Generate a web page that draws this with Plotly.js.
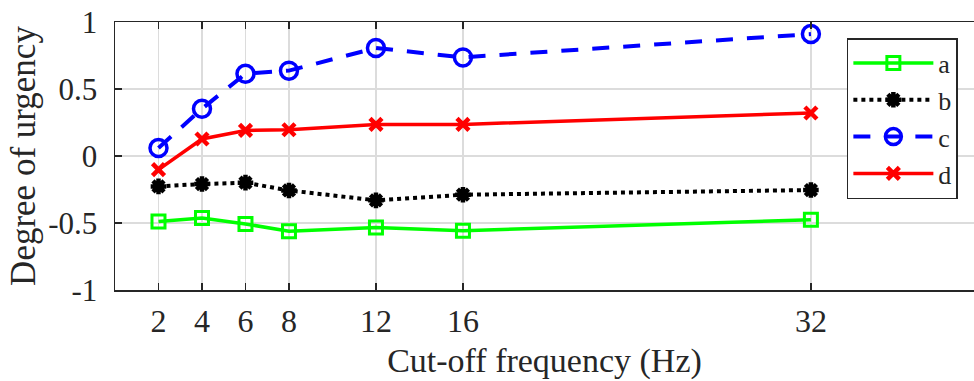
<!DOCTYPE html>
<html>
<head>
<meta charset="utf-8">
<script src="https://cdn.plot.ly/plotly-3.0.1.min.js"></script>
<style>html,body{margin:0;padding:0;background:#fff;}#chart{width:974px;height:381px;}</style>
</head>
<body>
<div id="chart"></div>
<script>
const freqs = [2, 4, 6, 8, 12, 16, 32];
const tickLabels = ["2", "4", "6", "8", "12", "16", "32"];
const seriesA = [-0.488, -0.463, -0.507, -0.562, -0.533, -0.557, -0.475];
const seriesB = [-0.227, -0.209, -0.199, -0.257, -0.331, -0.289, -0.254];
const seriesC = [0.06, 0.353, 0.614, 0.637, 0.806, 0.736, 0.91];
const seriesD = [-0.102, 0.127, 0.191, 0.196, 0.236, 0.236, 0.321];
const names = ["a", "b", "c", "d"];

const traces = [
  {x: freqs, y: seriesA, name: names[0], mode: "lines+markers",
   line: {color: "#00ff00", width: 3.5},
   marker: {symbol: "square-open", size: 13, color: "#00ff00", line: {width: 3, color: "#00ff00"}}},
  {x: freqs, y: seriesB, name: names[1], mode: "lines+markers",
   line: {color: "#000000", width: 4, dash: "dot"},
   marker: {symbol: "asterisk-open", size: 13, color: "#000000", line: {width: 4.5, color: "#000000"}}},
  {x: freqs, y: seriesC, name: names[2], mode: "lines+markers",
   line: {color: "#0000ff", width: 4, dash: "17px,14px"},
   marker: {symbol: "circle-open", size: 17, color: "#0000ff", line: {width: 3.5, color: "#0000ff"}}},
  {x: freqs, y: seriesD, name: names[3], mode: "lines+markers",
   line: {color: "#ff0000", width: 3.5},
   marker: {symbol: "x-thin-open", size: 12, color: "#ff0000", line: {width: 4.5, color: "#ff0000"}}}
];

const fontFam = "Liberation Serif, Times New Roman, serif";
const layout = {
  width: 974, height: 381,
  margin: {l: 115, r: 0, t: 22, b: 91, pad: 0},
  paper_bgcolor: "#ffffff", plot_bgcolor: "#ffffff",
  font: {family: fontFam, color: "#262626", size: 28},
  showlegend: true,
  legend: {x: 0.852, y: 0.94, xanchor: "left", yanchor: "top",
    bordercolor: "#262626", borderwidth: 1.5, bgcolor: "#ffffff",
    font: {family: fontFam, size: 26, color: "#262626"},
    itemwidth: 80, tracegroupgap: 0},
  xaxis: {
    range: [0, 39.5], tickmode: "array", tickvals: freqs, ticktext: tickLabels,
    ticks: "inside", ticklen: 7, tickwidth: 1.2, tickcolor: "#262626",
    showgrid: true, gridcolor: "#dcdcdc", gridwidth: 1.5, zeroline: false,
    showline: true, linecolor: "#262626", linewidth: 1.5, mirror: "ticks",
    ticklabelstandoff: 2,
    tickfont: {family: fontFam, size: 32, color: "#262626"},
    title: {text: "Cut-off frequency (Hz)", font: {family: fontFam, size: 34, color: "#262626"}, standoff: 10}
  },
  yaxis: {
    range: [-1, 1], tickmode: "array", tickvals: [-1, -0.5, 0, 0.5, 1], ticktext: ["-1", "-0.5", "0", "0.5", "1"],
    ticks: "inside", ticklen: 7, tickwidth: 1.2, tickcolor: "#262626",
    showgrid: true, gridcolor: "#dcdcdc", gridwidth: 1.5, zeroline: false,
    showline: true, linecolor: "#262626", linewidth: 1.5, mirror: false,
    ticklabelstandoff: 10,
    tickfont: {family: fontFam, size: 31, color: "#262626"},
    title: {text: "Degree of urgency", font: {family: fontFam, size: 35, color: "#262626"}, standoff: 2}
  }
};

Plotly.newPlot("chart", traces, layout, {displayModeBar: false, staticPlot: true});
</script>
</body>
</html>
